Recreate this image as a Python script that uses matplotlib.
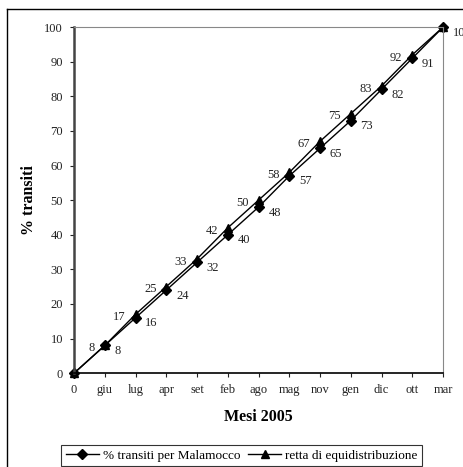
import matplotlib
matplotlib.use('Agg')
import matplotlib.pyplot as plt
from matplotlib.lines import Line2D

plt.rcParams['font.family'] = ['Liberation Serif', 'DejaVu Serif']

mesi = ['0', 'giu', 'lug', 'apr', 'set', 'feb', 'ago', 'mag', 'nov', 'gen', 'dic', 'ott', 'mar']
malamocco = [0, 8, 16, 24, 32, 40, 48, 57, 65, 73, 82, 91, 100]
retta = [0, 8, 17, 25, 33, 42, 50, 58, 67, 75, 83, 92, 100]

fig = plt.figure(figsize=(4.63, 4.67), dpi=100)
ax = fig.add_axes([0.160, 0.201, 0.797, 0.741])

x = list(range(len(mesi)))
ax.plot(x, malamocco, color='black', lw=1.0, marker='D', ms=5, clip_on=False,
        label='% transiti per Malamocco')
ax.plot(x, retta, color='black', lw=1.0, marker='^', ms=6, clip_on=False,
        label='retta di equidistribuzione')

for i in range(1, len(mesi)):
    ax.annotate(str(malamocco[i]), (x[i], malamocco[i]), xytext=(7, -4),
                textcoords='offset points', ha='left', va='center', fontsize=9,
                color='#222222', annotation_clip=False)
for i in range(1, len(mesi) - 1):
    ax.annotate(str(retta[i]), (x[i], retta[i]), xytext=(-7, -2),
                textcoords='offset points', ha='right', va='center', fontsize=9,
                color='#222222')

ax.set_xlim(0, 12)
ax.set_ylim(0, 100)
ax.set_xticks(x)
ax.set_xticklabels(mesi)
ax.set_yticks(range(0, 101, 10))
ax.tick_params(labelsize=9, length=3, pad=5, colors='#222222')
ax.set_xlabel('Mesi 2005', fontsize=11.5, fontweight='bold', labelpad=9)
ax.set_ylabel('% transiti', fontsize=11.5, fontweight='bold', labelpad=5)

ax.spines['top'].set_color('#888888')
ax.spines['right'].set_color('#888888')
ax.spines['left'].set_color('#444444')
ax.spines['left'].set_linewidth(1.8)
ax.spines['bottom'].set_color('black')
ax.spines['bottom'].set_linewidth(1.2)

leg = fig.legend(loc='lower center', bbox_to_anchor=(0.522, -0.004), ncol=2,
                 fontsize=9.5, frameon=True, fancybox=False, edgecolor='black',
                 handlelength=2.5, columnspacing=0.6, handletextpad=0.3,
                 borderpad=0.35, borderaxespad=0.2)
leg.get_frame().set_linewidth(0.8)

# outer chart border (cut off at right and bottom)
fig.add_artist(Line2D([7 / 463, 7 / 463], [0, 1 - 9 / 467], color='black', lw=1.0,
                      transform=fig.transFigure))
fig.add_artist(Line2D([7 / 463, 1], [1 - 9 / 467, 1 - 9 / 467], color='black', lw=1.0,
                      transform=fig.transFigure))

fig.savefig('out.png', dpi=100)
